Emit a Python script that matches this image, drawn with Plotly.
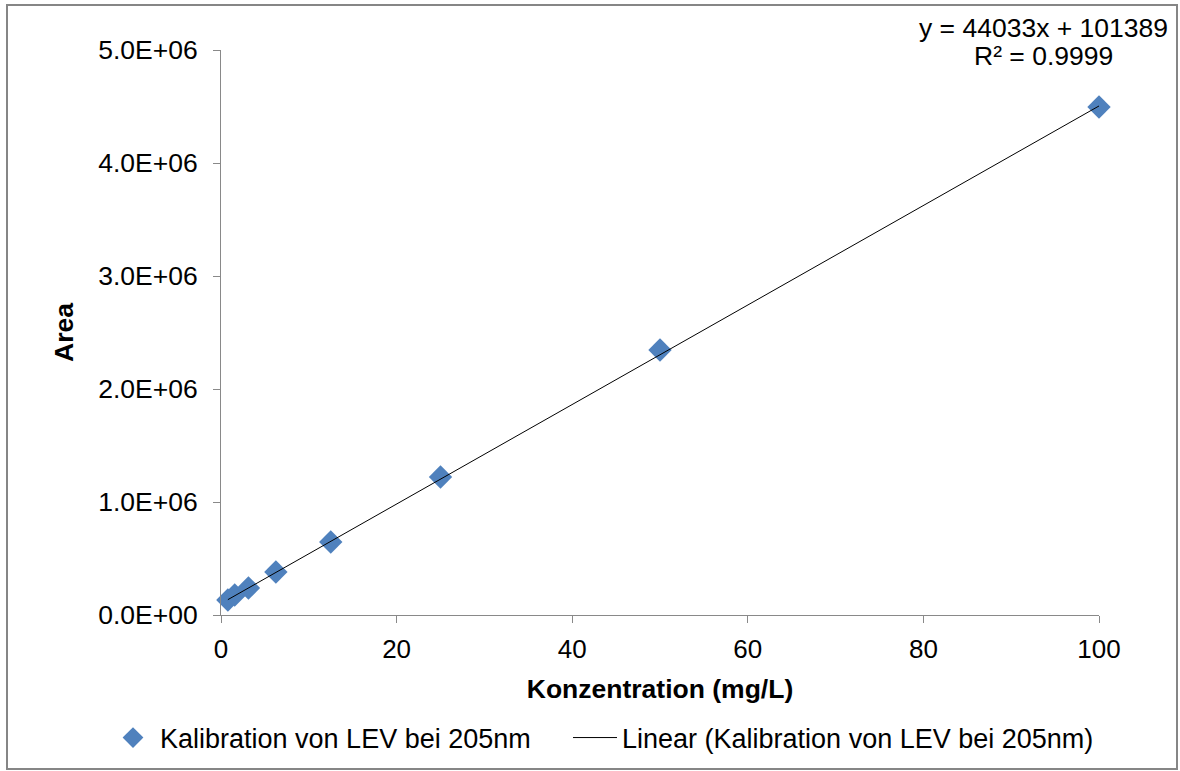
import plotly.graph_objects as go

# Data
konzentration = [0.78125, 1.5625, 3.125, 6.25, 12.5, 25, 50, 100]
area = [133000, 177000, 239000, 381000, 646000, 1221000, 2345000, 4496000]

# Trendline as displayed in the chart
slope = 44033
intercept = 101389
r_squared = "0.9999"

y_tickvals = [0, 1e6, 2e6, 3e6, 4e6, 5e6]
y_ticktext = ["0.0E+00", "1.0E+06", "2.0E+06", "3.0E+06", "4.0E+06", "5.0E+06"]
x_tickvals = [0, 20, 40, 60, 80, 100]

series_name = "Kalibration von LEV bei 205nm"
trend_name = "Linear (Kalibration von LEV bei 205nm)"

FONT = "Liberation Sans, Arial, sans-serif"
AXIS_GRAY = "#898989"

trend_x = [min(konzentration), max(konzentration)]
trend_y = [slope * x + intercept for x in trend_x]

fig = go.Figure()
fig.add_trace(go.Scatter(
    x=konzentration, y=area, mode="markers", name=series_name,
    marker=dict(symbol="diamond", size=18, color="#4F81BD", line=dict(width=0)),
    cliponaxis=False, legend="legend",
))
fig.add_trace(go.Scatter(
    x=trend_x, y=trend_y, mode="lines", name=trend_name,
    line=dict(color="#000000", width=1), legend="legend2",
))

W, H = 1180, 771
L, R, T, B = 221, 81, 50, 156
pw, ph = W - L - R, H - T - B

def px_x(px):
    return (px - L) / pw

def px_y(py):
    return (H - B - py) / ph

def cont_y(py):
    return 1 - py / H

legend_common = dict(
    orientation="h", yanchor="middle", xanchor="left", yref="container",
    font=dict(size=27), bgcolor="rgba(0,0,0,0)", itemwidth=44,
)

fig.update_layout(
    width=W, height=H,
    margin=dict(l=L, r=R, t=T, b=B, pad=0, autoexpand=False),
    paper_bgcolor="white", plot_bgcolor="white",
    font=dict(family=FONT, size=26, color="#000000"),
    showlegend=True,
    legend=dict(x=px_x(106), y=cont_y(738), **legend_common),
    legend2=dict(x=px_x(568), y=cont_y(738), **legend_common),
    xaxis=dict(
        range=[0, 100], tickvals=x_tickvals, showgrid=False, zeroline=False,
        showline=True, linecolor=AXIS_GRAY, linewidth=1,
        ticks="outside", ticklen=7, tickcolor=AXIS_GRAY, tickwidth=1,
        tickfont=dict(size=26), ticklabelstandoff=4,
        title=dict(text="<b>Konzentration (mg/L)</b>", font=dict(size=26.5), standoff=16),
    ),
    yaxis=dict(
        range=[0, 5e6], tickvals=y_tickvals, ticktext=y_ticktext, showgrid=False, zeroline=False,
        showline=True, linecolor=AXIS_GRAY, linewidth=1,
        ticks="outside", ticklen=7, tickcolor=AXIS_GRAY, tickwidth=1,
        tickfont=dict(size=26.5), ticklabelstandoff=10,
        title=dict(text="<b>Area</b>", font=dict(size=26.5), standoff=16),
    ),
    shapes=[dict(
        type="rect", xref="paper", yref="paper",
        x0=px_x(7), x1=px_x(1177), y0=px_y(769), y1=px_y(5),
        line=dict(color="#868686", width=2), fillcolor="rgba(0,0,0,0)", layer="below",
    )],
    annotations=[
        dict(text=f"y = {slope}x + {intercept}", xref="paper", yref="paper",
             x=px_x(1043), y=px_y(28), xanchor="center", yanchor="middle",
             showarrow=False, font=dict(size=26.5)),
        dict(text=f"R² = {r_squared}", xref="paper", yref="paper",
             x=px_x(1043), y=px_y(56), xanchor="center", yanchor="middle",
             showarrow=False, font=dict(size=26.5)),
    ],
)

fig.write_html("out.html")
